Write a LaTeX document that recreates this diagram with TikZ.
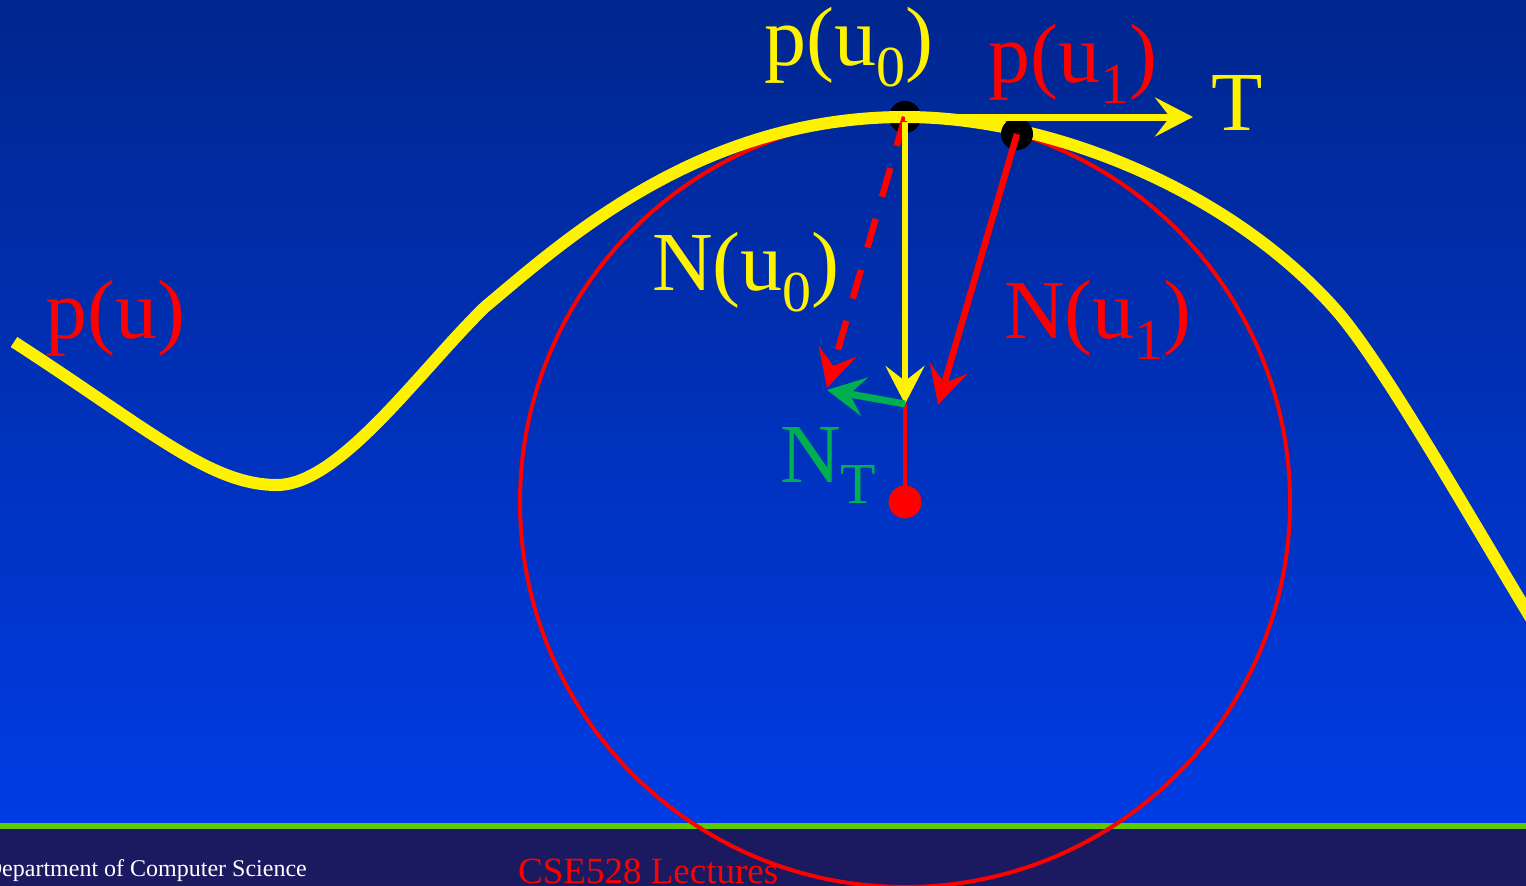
\documentclass[tikz,border=0pt]{standalone}
\usepackage{fontspec}
\setmainfont{Liberation Serif}
\usetikzlibrary{arrows.meta}
\definecolor{bgtop}{RGB}{0,38,142}
\definecolor{bgbot}{RGB}{0,60,228}
\definecolor{footbar}{RGB}{27,26,96}
\definecolor{footline}{RGB}{95,200,0}
\definecolor{ntgreen}{RGB}{0,176,80}
\newcommand{\lsub}[1]{\raisebox{-21pt}{\fontsize{58}{58}\selectfont #1}}
\begin{document}
\begin{tikzpicture}[x=1pt,y=-1pt,
  lbl/.style={anchor=base west, inner sep=0pt, font=\fontsize{84}{90}\selectfont},
  tip/.style={-{Stealth[length=38pt,width=39pt,inset=15pt]}},
  dot/.style={circle, fill=black, minimum size=32pt, inner sep=0pt},
  reddot/.style={circle, fill=red, minimum size=33pt, inner sep=0pt},
  curve/.style={yellow, line width=12pt},
]
\useasboundingbox (0,0) rectangle (1526,886);
\clip (0,0) rectangle (1526,886);
% background
\shade[top color=bgtop, bottom color=bgbot] (0,0) rectangle (1526,824);
\fill[footbar] (0,826) rectangle (1526,886);
\fill[footline] (0,823) rectangle (1526,829);
% footer texts
\node[anchor=base east, inner sep=0pt, white, font=\fontsize{24}{26}\selectfont] (dept) at (307,876) {Department of Computer Science};
\node[anchor=base west, inner sep=0pt, red, font=\fontsize{37}{40}\selectfont] (lect) at (518,883) {CSE528 Lectures};
% key points
\coordinate (c) at (905,502);
\coordinate (tT) at (1193,117);
\coordinate (nu0) at (905,404);
\coordinate (nu1) at (938,405);
\coordinate (nd) at (827,388);
\coordinate (nt) at (827,390);
% osculating circle
\draw[red, line width=4pt] (c) circle[radius=385];
% dot at p(u0), under the curve
\node[dot] (p0) at (905,117) {};
% the curve p(u)
\draw[curve] (14,342) .. controls (150,430) and (210,485) .. (277,485)
  .. controls (340,485) and (420,370) .. (485,307)
  .. controls (565,240) and (700,117) .. (905,117)
  .. controls (1050,117) and (1230,190) .. (1336,310)
  .. controls (1380,360) and (1460,500) .. (1526,610) -- (1542,637);
% dot at p(u1)
\node[dot] (p1) at (1017,134) {};
% vectors
\draw[red, line width=6.5pt, dash pattern=on 30pt off 23pt, tip] (p0.center) -- (nd);
\draw[red, line width=6.5pt, tip] (p1.center) -- (nu1);
\draw[yellow, line width=6pt, tip] (905,122) -- (nu0);
\draw[yellow, line width=7pt, tip] (p0.center) -- (tT);
\draw[red, line width=4.5pt] (nu0) -- (c);
\draw[ntgreen, line width=7pt, tip] (nu0) -- (nt);
\node[reddot] (cdot) at (c) {};
% labels
\node[lbl, yellow] (lp0) at (764,65) {p(u\lsub{0})};
\node[lbl, red] (lp1) at (988,82) {p(u\lsub{1})};
\node[lbl, yellow] (lT) at (1211,130) {T};
\node[lbl, yellow] (lN0) at (652,290) {N(u\lsub{0})};
\node[lbl, red] (lN1) at (1004,338) {N(u\lsub{1})};
\node[lbl, ntgreen] (lNT) at (780,482) {N\lsub{T}};
\node[lbl, red] (lpu) at (45,338) {p(u)};
\end{tikzpicture}
\end{document}
